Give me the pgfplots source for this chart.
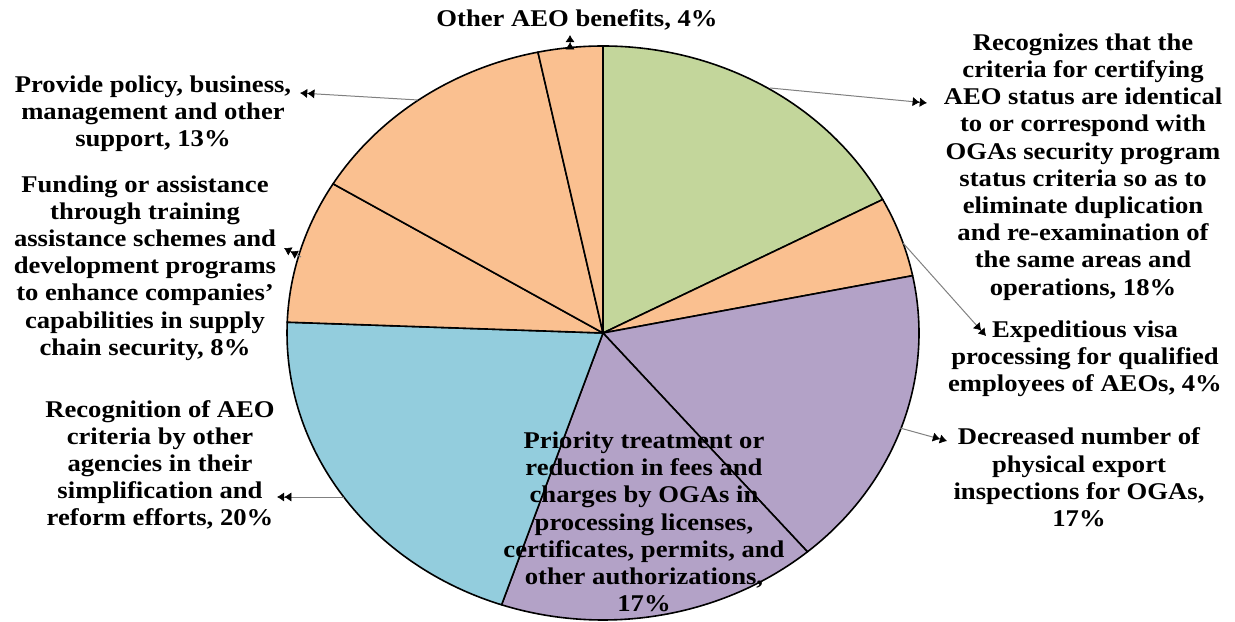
\documentclass[border=0pt]{standalone}
\usepackage{fontspec}
\setmainfont{Liberation Serif}[FakeStretch=1.11]
\usepackage{pgfplots}
\usepackage{pgfplotstable}
\pgfplotsset{compat=1.18}
\usetikzlibrary{arrows.meta}
\definecolor{pgreen}{HTML}{C3D69B}
\definecolor{porange}{HTML}{FAC090}
\definecolor{ppurple}{HTML}{B3A2C7}
\definecolor{pblue}{HTML}{93CDDD}
\definecolor{leader}{HTML}{808080}
\pgfplotstableread{
v c
17.3 pgreen
4.5 porange
17.0 ppurple
16.4 ppurple
20.4 pblue
8.1 porange
13.0 porange
3.3 porange
}\pietable
\begin{document}
\begin{tikzpicture}
\begin{axis}[width=617.5pt,height=310.5pt,scale only axis,hide axis,
  xmin=0,xmax=1235,ymin=0,ymax=621,clip=false]
\def\ang{90}
\pgfplotsforeachungrouped \i in {0,...,7}{%
  \pgfplotstablegetelem{\i}{v}\of\pietable \let\val\pgfplotsretval
  \pgfplotstablegetelem{\i}{c}\of\pietable \let\col\pgfplotsretval
  \pgfmathsetmacro\angB{\ang-3.6*\val}%
  \edef\temp{\noexpand\filldraw[fill=\col, draw=black, line width=0.8pt, line join=round] (axis cs:603,288) -- ++(\ang:158pt and 143.5pt) arc[start angle=\ang, end angle=\angB, x radius=158pt, y radius=143.5pt] -- cycle;}%
  \temp
  \global\let\ang\angB
}
% leader lines
\tikzset{ld/.style={draw=leader, line width=0.5pt, -{Latex[length=3.6pt,width=4.6pt,black,line width=0.3pt]Latex[length=3.6pt,width=4.6pt,black,line width=0.3pt]}}}
\draw[ld] (axis cs:570,573) -- (axis cs:570,586);
\draw[ld] (axis cs:418,521) -- (axis cs:300,528);
\draw[ld] (axis cs:301,364) -- (axis cs:284,373);
\draw[ld] (axis cs:344,124) -- (axis cs:277,124);
\draw[ld] (axis cs:770,533) -- (axis cs:927,518);
\draw[ld] (axis cs:903,378) -- (axis cs:986,285);
\draw[ld] (axis cs:900,193) -- (axis cs:947,180);
% labels
\tikzset{lb/.style={align=center, font=\fontsize{12}{13.6}\selectfont\bfseries, inner sep=0pt}}
\node[lb] at (axis cs:577,601) {Other AEO benefits, 4\%};
\node[lb] at (axis cs:153,507) {Provide policy, business,\\management and other\\support, 13\%};
\node[lb] at (axis cs:145,353) {Funding or assistance\\through training\\assistance schemes and\\development programs\\to enhance companies’\\capabilities in supply\\chain security, 8\%};
\node[lb] at (axis cs:160,156) {Recognition of AEO\\criteria by other\\agencies in their\\simplification and\\reform efforts, 20\%};
\node[lb] at (axis cs:644,99) {Priority treatment or\\reduction in fees and\\charges by OGAs in\\processing licenses,\\certificates, permits, and\\other authorizations,\\17\%};
\node[lb] at (axis cs:1079,143.5) {Decreased number of\\physical export\\inspections for OGAs,\\17\%};
\node[lb] at (axis cs:1085,262) {Expeditious visa\\processing for qualified\\employees of AEOs, 4\%};
\node[lb] at (axis cs:1083,454) {Recognizes that the\\criteria for certifying\\AEO status are identical\\to or correspond with\\OGAs security program\\status criteria so as to\\eliminate duplication\\and re-examination of\\the same areas and\\operations, 18\%};
\end{axis}
\pgfresetboundingbox
\path[use as bounding box] (current axis.south west) rectangle (current axis.north east);
\end{tikzpicture}
\end{document}
